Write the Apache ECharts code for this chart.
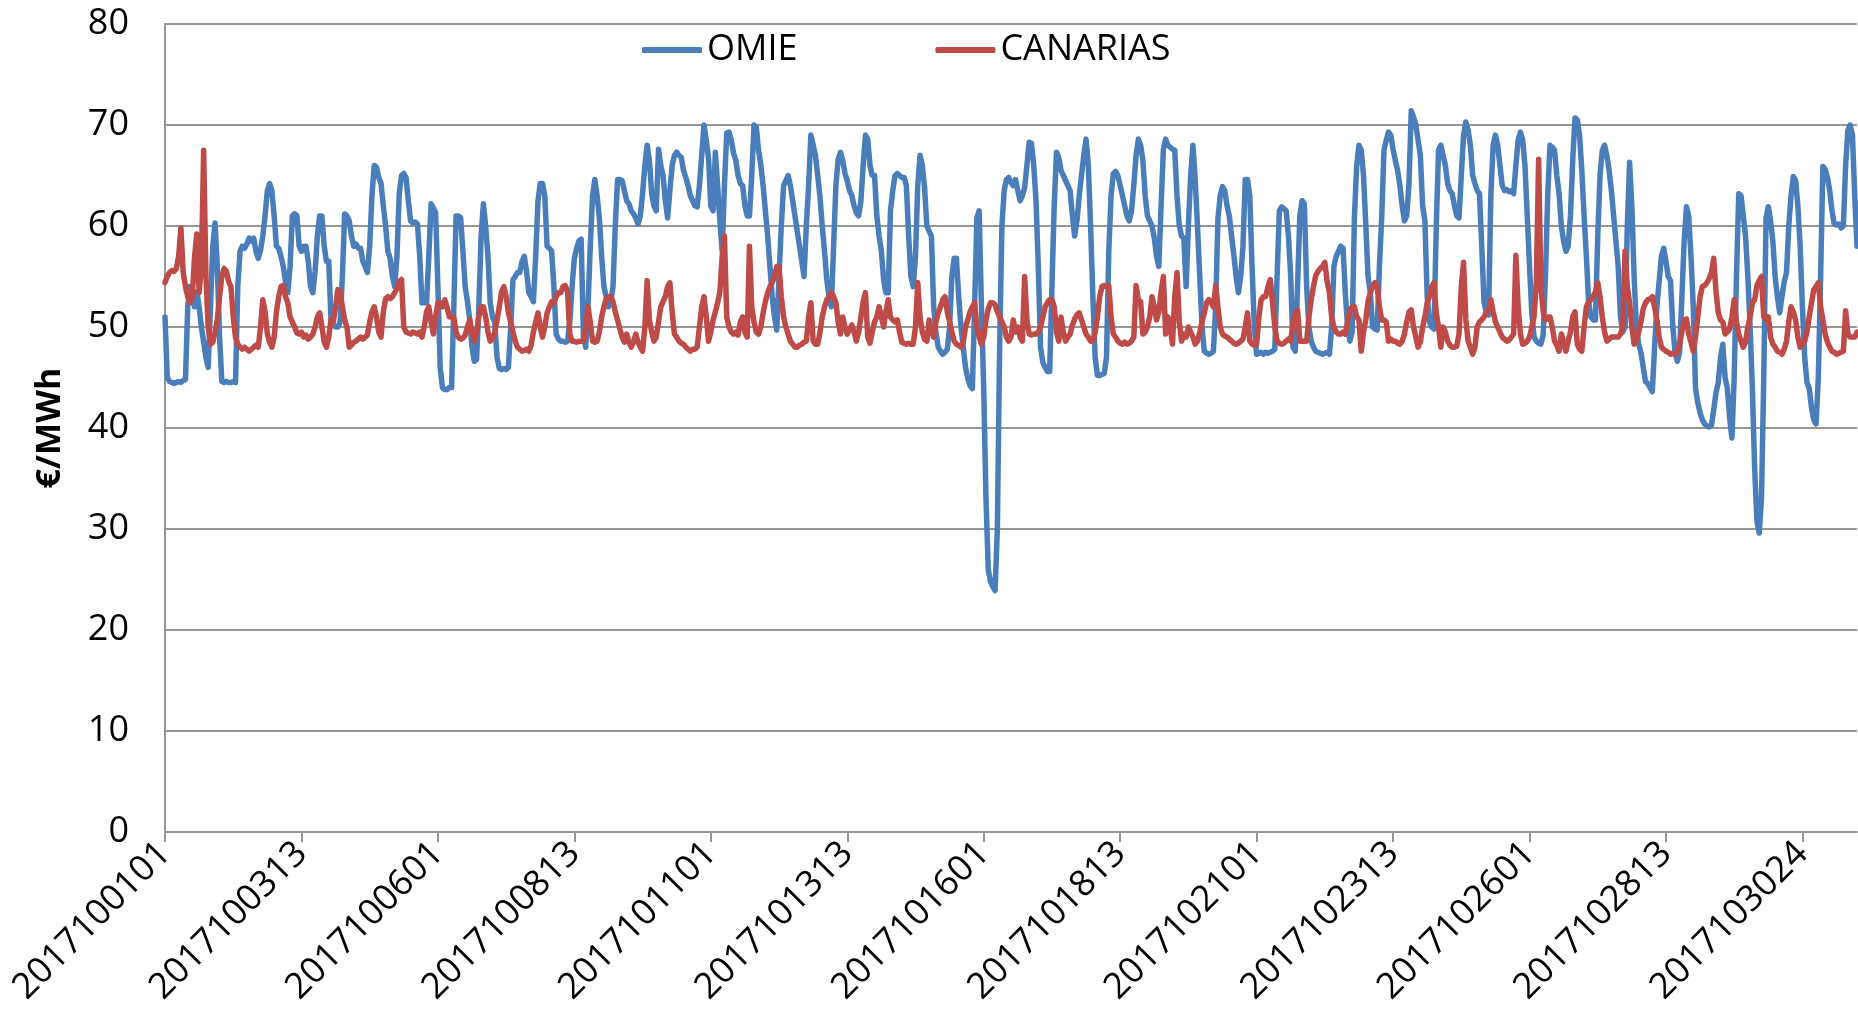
<!DOCTYPE html>
<html>
<head>
<meta charset="utf-8">
<script src="https://cdn.jsdelivr.net/npm/echarts@6/dist/echarts.min.js"></script>
<style>
html,body{margin:0;padding:0;background:#fff;}
#chart{width:1858px;height:1035px;}
</style>
</head>
<body>
<div id="chart"></div>
<script>
// Category labels: October 2017, hourly (day 29 has 25 hours – DST change)
const year = '2017', month = '10';
const hoursPerDay = {29: 25};
const categories = [];
for (let d = 1; d <= 31; d++) {
  const n = hoursPerDay[d] || 24;
  for (let h = 1; h <= n; h++) {
    categories.push(year + month + String(d).padStart(2, '0') + String(h).padStart(2, '0'));
  }
}

const seriesNames = ['OMIE', 'CANARIAS'];
const yTicks = [0, 10, 20, 30, 40, 50, 60, 70, 80];

const omie = [
51,45,44.6,44.5,44.4,44.5,44.6,44.5,44.7,44.8,52,54,53,52,53.5,52,50,48.5,47,46,52,58,60.3,56,
49,44.6,44.5,44.6,44.5,44.5,44.6,44.5,54,57.5,58,57.8,58.2,58.8,58.5,58.8,57.5,56.8,57.6,59,61,63.5,64.2,63.5,
61,58,57.8,57,56,54.5,53.4,56,61,61.2,61,58,57.5,58,58,56.5,54,53.4,55.5,59,61,61,58,56.5,
56.5,50.7,50.2,50,50,50.5,55,61.2,61,60.5,59,58,58.2,57.8,57.8,56.5,56,55.4,58,63,66,65.8,64.8,64.2,
62,60,57.5,56.8,55,54,57,63.2,65,65.2,64.8,62.5,60.5,60.3,60.4,60.2,57,52.4,52.4,52.4,57,62.2,61.8,61.3,
54,46,44,43.8,43.8,44,44,52,61,61,60.8,57.5,54,52.5,50.7,48,46.6,46.8,52,59,62.2,60,57,52.4,
51,50.5,47,45.9,45.8,45.9,45.8,46,50,54.7,55,55.4,55.4,56.5,57,55.5,53.4,53,52.5,57,62.5,64.2,64.2,63,
58,57.8,57.5,54,49.3,48.8,48.6,48.6,48.5,48.6,50.5,54,56.8,57.8,58.5,58.7,49,48,52,58,63,64.6,63,60.8,
57,54,53,52,52.5,54,60,64.6,64.6,64.5,63.5,62.5,62.2,61.5,61.2,60.8,60.2,61,63.2,66,68,66.5,63.2,62,
61.5,67.6,66,65,62.5,60.8,63.5,66,67,67.3,67,66.8,65.5,64.8,64,63,62.5,62,61.9,64,67,70,68.5,66.7,
62,61.5,67.3,64,60.5,57.5,64,69.2,69.3,68.5,67.2,66.5,65,64.2,64,62,61,61,65,70,69.8,67.5,66,64,
61.5,59,56,53,51,49.7,55,60,64,64.5,65,64,62.5,61,59.5,58,56.5,55,60,64,69,68,67,65,
62.9,60,57.5,54.7,53,52,58,64,66.6,67.3,66.5,65.2,64.5,63.5,63,62,61.3,61,62.5,66,69,68.6,66,65,
65,61,59,57.5,54.7,53.4,53.4,61.5,63.5,65,65.2,65,64.8,64.8,64,59,55,54,57,64,67,66,63.8,60,
59.5,59,52,49.5,48,47.6,47.3,47.5,47.8,50,55,56.8,56.8,53,50,48,46,44.9,44.2,43.9,52,60.8,61.5,52,
44,33,26,24.8,24.3,23.9,30,48,60,63.5,64.6,64.8,64.3,64,64.6,63.5,62.5,63,63.8,66,68.3,68.2,66,62.5,
56,48,46.5,46,45.6,45.6,54,62,67.3,66.8,65.5,65,64.5,64,63.5,61,59,60.5,63,65,67,68.6,66,60,
53,47,45.2,45.2,45.3,45.4,47,57.5,63,65.2,65.4,65,64,63,62,61,60.5,61.5,64,67,68.6,68,66.5,63,
61,60.5,60,58.8,57,56,62,67.6,68.6,68,67.8,67.6,67.5,63,60,59,58.8,54,60,65,68,64.5,60,55,
50,47.6,47.4,47.3,47.4,47.6,52,60.8,63,63.9,63.5,62,61,59,57.1,55,53.4,55,58,64.6,64.6,63,56,50,
47.3,47.4,47.5,47.3,47.5,47.4,47.5,47.6,47.8,55,61.5,61.9,61.7,61.5,59,55,48,47.6,54,61,62.5,62.2,54,50,
48.6,48,47.6,47.5,47.4,47.3,47.4,47.5,47.3,50,56,57,57.5,58,57.8,53.4,50,48.6,49.5,60.8,66,68,67.5,65,
60.2,55,53.4,50,49.8,49.7,56,60.8,67.5,68.5,69.3,69,67.6,66.5,65.5,64,62,60.5,61,64.2,71.4,70.8,70,68.5,
67,62,60.5,53,50.5,50,49.8,60,67.5,68,67,66,64.2,63.5,63.2,62,61,60.8,65,69,70.3,69.5,68,65,
64.2,63.5,63.2,58,52.5,51.4,51.2,63,68,69,68,66,64,63.5,63.6,63.4,63.5,63.2,66,68.5,69.3,68.5,66,61,
56,51.4,49,48.6,48.4,48.3,49.2,55,63,68,67.8,67.5,65,63.2,60,58.5,57.5,58,61,66.5,70.7,70.5,69,65.5,
61,57,52.5,51,50.7,50.7,59,65,67.5,68,67,65.5,63.5,61,58.5,56,51,49.5,50,60,66.3,62,55,50,
48.3,47.5,46,44.6,44.4,44,43.6,48,52,54.5,57,57.8,56.5,55,54.6,50,47.5,46.6,47.5,53,58.5,61.9,61,57,
52,43.9,42.5,41.5,40.8,40.4,40.2,40.1,40.3,41.8,43.5,44.5,47,48.3,45,43.9,41,39,45,55,63.2,63,61,59,
55,50,43.9,36,30.8,29.6,33,45,60.8,61.9,60.5,58.5,55,53,51.4,53,54.5,55.4,60,63,64.9,64.5,62,58,
52,47,44.5,43.9,42,40.8,40.4,45,55,65.9,65.6,64.8,63.5,61.5,60.2,60.1,60.2,59.8,60,66,69.5,70,69,63,
58
];

const canarias = [
54.4,55,55.4,55.6,55.5,55.8,57,59.8,55.4,54,53,52.4,53,57,59.2,53.4,56,67.5,55,50,48.3,48.5,49.5,50.7,
53,55,55.8,55.5,54.5,54,51,49,48.3,48,47.8,48,47.8,47.6,47.8,48,48.2,48,50,52.7,51.5,49.3,48.5,48,
49,51.5,53,54,54.1,53,52.4,51,50.5,50,49.4,49.3,49.5,49,49.2,48.8,49,49.3,50,51,51.4,50,48.5,48,
49,50.7,50.5,52,53.7,53.5,52,50.7,50,48,48.2,48.5,48.6,48.8,49,48.8,49,49.2,50.5,51.5,52,51,49.5,49,
51.5,52.8,53,52.8,53,53.4,53.8,54.5,54.7,50,49.5,49.4,49.3,49.5,49.4,49.3,49.5,49,50,51.5,52,50.5,49.3,51,
52.4,52.4,52,52.7,52,51,51,51,49.5,49,48.8,48.9,49.2,50,50.7,49.5,48.6,49.5,51,52,52,51,49.5,48.6,
48.8,49.5,50.7,52,53.5,54,53,51.4,50.5,49.5,48.6,48,47.8,47.6,47.7,47.8,47.6,48.2,49.5,50.5,51.4,50,49,50,
51.4,52,52.5,52.4,53,53.4,53.4,54,54.1,53.5,49.3,48.6,48.6,48.5,48.6,48.6,48.6,50,52,50.5,48.6,48.5,48.6,49.5,
51,52,52.8,53,53,52.5,51.5,50.7,49.8,49,48.5,49.3,48.5,48,48.5,49.3,48.5,48,47.6,50,54.6,50.7,49.5,48.6,
49,50.5,52,52.5,53,54,54.4,51.5,49.3,49,48.6,48.4,48.3,48,47.8,47.6,47.8,47.8,48,50,52,53,51,48.6,
49.5,50.7,51.5,52.4,53.5,57,59,51,50,49.5,49.3,49.5,49.2,50.5,51,49.5,49,58,52,50.5,49.5,49.3,50,51.4,
52.5,53.4,54,54.4,55,56,56,53,51,50,49.3,48.6,48.3,48,48,48.2,48.3,48.5,48.6,51,52.4,48.6,48.3,48.3,
49.5,51,52,52.7,53,53.4,53,52.4,50.5,49.3,51,50,49.3,49.8,50.2,49.5,48.6,49.5,51,52.5,53.4,49,48.4,49.5,
50.5,51,52,51,50,51.5,52.7,51,50.7,50.5,50.7,49.5,48.5,48.4,48.3,48.4,48.3,48.3,50,54.4,51,49.5,48.8,48.6,
50.7,49.5,49,50.5,51.4,52,52.7,53,51.5,50.5,49.5,48.6,48.3,48.2,48,48.5,50,50.7,51.5,52,52.4,50,49,48.3,
49,50.7,51.8,52.4,52.4,52.2,51.5,51,50.5,50,49,48.6,49,50.7,49.5,50,49,48.6,55,50.7,49.3,49.2,49.3,49.3,
49.5,50,51,52,52.4,52.7,52.7,52,49.5,48.6,51,49.5,48.6,49,49.3,50.2,50.8,51.2,51.4,50.7,50,49.3,49,48.6,
48.6,49.5,51,53,54,54.1,54,54.1,51,49.3,49,48.6,48.4,48.3,48.5,48.3,48.4,48.6,49,54.1,52.7,52.5,49.3,49.5,
50,51,53,52,50.7,51.5,53.5,55,49.3,51,50,48.3,53,55.4,50.5,48.6,49.3,49,50,49.5,49,48.3,48.6,49.5,
50.5,51.4,52.4,52.7,52.5,52,54.1,52,50,49.3,49.1,49,48.8,48.6,48.4,48.3,48.4,48.6,48.8,50,51.4,48.6,48.3,48.2,
48.3,51,52.7,53,53,54,54.7,52.4,50,48.6,48.4,48.3,48.4,48.6,48.8,48.6,50.5,51.3,51.7,48.6,48.6,48.6,48.6,51,
52.7,54,55.1,55.5,55.8,56,56.4,54.5,53.4,51,50,49.5,49.3,49.3,49.5,49.3,50.5,51.7,52,52,51,50.7,47.6,49.5,
50.7,52.5,53.4,54,54.4,54.1,52,50.7,50.7,50.5,48.6,48.8,48.6,48.6,48.4,48.3,48.6,49.3,50.5,51.5,51.7,50,49,48,
48.5,50,51,52.4,53,54,54.4,51.4,50,48,50,49.5,48.6,48.2,48,48,48.1,49.3,54,56.4,50.7,48.6,48,47.3,
48,50,50.5,50.7,51,51.4,51.7,52.7,51.5,50.5,50,49.5,49,48.8,48.6,48.7,49,49.3,57.1,52,49.3,48.3,48.4,48.6,
49,50,51,54.5,66.6,54,51.5,50.7,51,51,50,48.6,48.2,47.6,49.3,48.5,47.6,48.6,49.5,51,51.5,48.3,47.8,47.6,
50,52,52.5,52.7,53,53.5,54.4,53,51,49.5,48.6,48.8,49,49,49,49,49.3,50,57.5,54,52.4,50,48.3,48.6,
49.5,50.5,51.8,52.4,52.7,52.8,53,52,50.7,49,48,47.8,47.6,47.5,47.3,47.4,47.3,47.5,48.3,49.5,50.7,50.8,49.3,48.5,
47.6,49,51,53,54,54.1,54.4,54.8,55.4,56.8,53.5,51.4,50.7,50.5,49.3,49.5,49.8,51,52.7,50.5,49.3,48.6,48,48.5,
50,51,52.4,52.7,54.1,54.6,55,51,50.7,51,49,48.3,48,47.6,47.5,47.3,47.8,48.6,50.5,52,51.5,50.7,49,48,
48.3,48.6,49.5,51,52.4,53.7,54,54.4,52,50.7,49.3,48.5,48,47.6,47.5,47.3,47.4,47.5,47.6,51.6,49.3,49,49,49,
49.5
];

const FONT = "'Open Sans', sans-serif";
const GRID_COLOR = '#969696';

const chart = echarts.init(document.getElementById('chart'), null, {renderer: 'canvas'});
chart.setOption({
  animation: false,
  backgroundColor: '#ffffff',
  textStyle: {fontFamily: FONT, color: '#000'},
  legend: {
    data: seriesNames,
    left: 637,
    top: 27,
    itemWidth: 60,
    itemHeight: 6,
    itemGap: 138,
    icon: 'roundRect',
    textStyle: {fontFamily: FONT, fontSize: 36, color: '#000'}
  },
  grid: {left: 165, right: 1, top: 24, bottom: 203, containLabel: false},
  xAxis: {
    type: 'category',
    data: categories,
    boundaryGap: false,
    axisLine: {lineStyle: {color: GRID_COLOR, width: 2}},
    axisTick: {show: true, interval: 59, length: 10, lineStyle: {color: GRID_COLOR, width: 2}},
    axisLabel: {interval: 59, rotate: 45, margin: 16, fontFamily: FONT, fontSize: 36, color: '#000'},
    splitLine: {show: false}
  },
  yAxis: {
    type: 'value',
    min: yTicks[0],
    max: yTicks[yTicks.length - 1],
    interval: 10,
    name: '€/MWh',
    nameLocation: 'middle',
    nameGap: 98,
    nameTextStyle: {fontFamily: FONT, fontSize: 34, fontWeight: 'bold', color: '#000'},
    axisLine: {show: true, lineStyle: {color: GRID_COLOR, width: 2}},
    axisTick: {show: false},
    axisLabel: {margin: 36, fontFamily: FONT, fontSize: 36, color: '#000'},
    splitLine: {show: true, lineStyle: {color: GRID_COLOR, width: 2}}
  },
  series: [
    {
      name: seriesNames[0], type: 'line', data: omie, symbol: 'none', showSymbol: false,
      lineStyle: {color: '#4A7EBB', width: 5.5, join: 'round', cap: 'round'},
      itemStyle: {color: '#4A7EBB'}, z: 2
    },
    {
      name: seriesNames[1], type: 'line', data: canarias, symbol: 'none', showSymbol: false,
      lineStyle: {color: '#BE4B48', width: 5.5, join: 'round', cap: 'round'},
      itemStyle: {color: '#BE4B48'}, z: 3
    }
  ]
});
</script>
</body>
</html>
